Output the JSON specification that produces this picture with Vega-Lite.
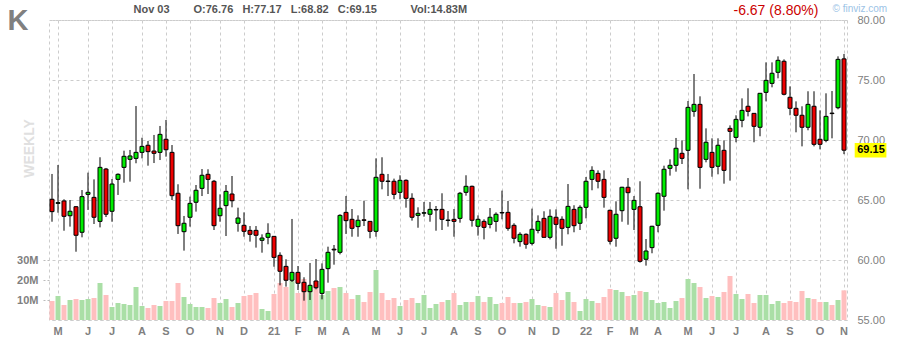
{
"$schema": "https://vega.github.io/schema/vega-lite/v6.json",
"width": 798,
"height": 300,
"autosize": {"type": "none"},
"padding": {"left": 49, "top": 20, "right": 51, "bottom": 20},
"background": "#ffffff",
"config": {
  "font": "Liberation Sans",
  "view": {"stroke": "#cccccc", "strokeDash": [3, 3], "strokeWidth": 1},
  "axis": {"gridColor": "#cccccc", "gridDash": [3, 3], "gridWidth": 1, "domain": false, "labelColor": "#808080", "labelFont": "Liberation Sans", "labelFontSize": 11, "titleFont": "Liberation Sans"}
},
"data": {"values": [
{"date":"2020-04-24","open":65.06,"high":67.17,"low":63.19,"close":64.03,"volume":9500000},
{"date":"2020-05-01","open":64.72,"high":67.92,"low":63.94,"close":64.78,"volume":12000000},
{"date":"2020-05-08","open":64.92,"high":65.06,"low":62.44,"close":63.64,"volume":7500000},
{"date":"2020-05-15","open":63.69,"high":65.0,"low":62.78,"close":64.06,"volume":10000000},
{"date":"2020-05-22","open":64.44,"high":64.5,"low":60.69,"close":62.06,"volume":10500000},
{"date":"2020-05-29","open":62.31,"high":65.83,"low":61.89,"close":65.28,"volume":10000000},
{"date":"2020-06-05","open":65.47,"high":67.28,"low":64.17,"close":65.64,"volume":10500000},
{"date":"2020-06-12","open":65.22,"high":66.72,"low":63.0,"close":63.56,"volume":11000000},
{"date":"2020-06-19","open":63.22,"high":68.56,"low":62.72,"close":67.72,"volume":18500000},
{"date":"2020-06-26","open":67.58,"high":67.67,"low":63.58,"close":63.81,"volume":12500000},
{"date":"2020-07-02","open":64.06,"high":66.75,"low":63.19,"close":66.33,"volume":6500000},
{"date":"2020-07-10","open":66.72,"high":67.22,"low":65.42,"close":67.14,"volume":8500000},
{"date":"2020-07-17","open":67.72,"high":69.11,"low":66.44,"close":68.64,"volume":8000000},
{"date":"2020-07-24","open":68.39,"high":69.17,"low":66.53,"close":68.67,"volume":7500000},
{"date":"2020-07-31","open":68.47,"high":72.83,"low":68.06,"close":68.97,"volume":16500000},
{"date":"2020-08-07","open":68.97,"high":70.19,"low":68.47,"close":69.47,"volume":7000000},
{"date":"2020-08-14","open":69.56,"high":69.92,"low":67.86,"close":69.03,"volume":6000000},
{"date":"2020-08-21","open":69.08,"high":70.42,"low":68.08,"close":68.89,"volume":7500000},
{"date":"2020-08-28","open":68.97,"high":71.17,"low":68.33,"close":70.47,"volume":7000000},
{"date":"2020-09-04","open":70.06,"high":71.67,"low":68.61,"close":69.19,"volume":9500000},
{"date":"2020-09-11","open":68.97,"high":69.58,"low":65.0,"close":65.36,"volume":9500000},
{"date":"2020-09-18","open":65.56,"high":66.31,"low":62.17,"close":62.86,"volume":18500000},
{"date":"2020-09-25","open":62.36,"high":63.67,"low":60.78,"close":63.06,"volume":11500000},
{"date":"2020-10-02","open":63.56,"high":65.28,"low":62.78,"close":64.72,"volume":8000000},
{"date":"2020-10-09","open":64.81,"high":66.25,"low":64.03,"close":65.81,"volume":6500000},
{"date":"2020-10-16","open":65.97,"high":67.58,"low":65.33,"close":67.06,"volume":6500000},
{"date":"2020-10-23","open":67.14,"high":67.56,"low":65.5,"close":66.72,"volume":6000000},
{"date":"2020-10-30","open":66.56,"high":66.67,"low":62.5,"close":62.86,"volume":11000000},
{"date":"2020-11-06","open":63.69,"high":65.47,"low":63.19,"close":64.31,"volume":8500000},
{"date":"2020-11-13","open":64.53,"high":66.25,"low":62.0,"close":65.72,"volume":10500000},
{"date":"2020-11-20","open":65.5,"high":67.0,"low":64.39,"close":64.94,"volume":6500000},
{"date":"2020-11-27","open":63.06,"high":64.36,"low":62.36,"close":63.5,"volume":8500000},
{"date":"2020-12-04","open":62.89,"high":63.97,"low":61.94,"close":62.39,"volume":12000000},
{"date":"2020-12-11","open":62.47,"high":62.83,"low":61.53,"close":62.14,"volume":12500000},
{"date":"2020-12-18","open":62.47,"high":62.83,"low":61.03,"close":62.06,"volume":13500000},
{"date":"2020-12-24","open":61.64,"high":62.14,"low":60.61,"close":61.83,"volume":5500000},
{"date":"2020-12-31","open":61.89,"high":63.06,"low":61.31,"close":62.22,"volume":4500000},
{"date":"2021-01-08","open":61.97,"high":62.0,"low":59.44,"close":60.22,"volume":13000000},
{"date":"2021-01-15","open":60.39,"high":60.64,"low":57.89,"close":59.06,"volume":18500000},
{"date":"2021-01-22","open":59.47,"high":60.06,"low":57.78,"close":58.31,"volume":16500000},
{"date":"2021-01-29","open":58.31,"high":63.42,"low":58.17,"close":58.97,"volume":19500000},
{"date":"2021-02-05","open":58.97,"high":59.5,"low":57.5,"close":58.06,"volume":13500000},
{"date":"2021-02-12","open":58.14,"high":58.56,"low":56.61,"close":57.36,"volume":20500000},
{"date":"2021-02-19","open":57.36,"high":59.75,"low":56.67,"close":57.89,"volume":15000000},
{"date":"2021-02-26","open":58.25,"high":60.08,"low":57.56,"close":57.69,"volume":16000000},
{"date":"2021-03-05","open":57.22,"high":59.72,"low":56.72,"close":59.22,"volume":12500000},
{"date":"2021-03-12","open":59.28,"high":61.11,"low":58.11,"close":60.64,"volume":14500000},
{"date":"2021-03-19","open":60.9,"high":61.25,"low":59.61,"close":60.84,"volume":16000000},
{"date":"2021-03-26","open":60.64,"high":63.81,"low":60.47,"close":63.72,"volume":16500000},
{"date":"2021-04-01","open":63.97,"high":65.33,"low":62.17,"close":63.28,"volume":13500000},
{"date":"2021-04-09","open":63.39,"high":64.25,"low":61.94,"close":62.64,"volume":10500000},
{"date":"2021-04-16","open":62.78,"high":63.72,"low":61.94,"close":63.31,"volume":12500000},
{"date":"2021-04-23","open":63.35,"high":64.94,"low":62.83,"close":63.3,"volume":9000000},
{"date":"2021-04-30","open":63.22,"high":63.25,"low":61.81,"close":62.39,"volume":14000000},
{"date":"2021-05-07","open":62.39,"high":68.47,"low":61.94,"close":66.89,"volume":25000000},
{"date":"2021-05-14","open":67.14,"high":68.56,"low":65.89,"close":66.56,"volume":13500000},
{"date":"2021-05-21","open":66.58,"high":67.17,"low":65.33,"close":66.54,"volume":10000000},
{"date":"2021-05-28","open":66.56,"high":66.78,"low":65.06,"close":65.47,"volume":11000000},
{"date":"2021-06-04","open":65.64,"high":67.06,"low":65.06,"close":66.64,"volume":7000000},
{"date":"2021-06-11","open":66.64,"high":66.72,"low":64.36,"close":65.14,"volume":10000000},
{"date":"2021-06-18","open":65.14,"high":65.56,"low":63.28,"close":63.56,"volume":11000000},
{"date":"2021-06-25","open":63.72,"high":64.39,"low":62.69,"close":63.89,"volume":8500000},
{"date":"2021-07-02","open":63.9,"high":64.83,"low":63.61,"close":63.94,"volume":12500000},
{"date":"2021-07-09","open":63.81,"high":64.83,"low":63.19,"close":64.22,"volume":6000000},
{"date":"2021-07-16","open":64.17,"high":64.5,"low":62.44,"close":64.21,"volume":8000000},
{"date":"2021-07-23","open":64.22,"high":65.56,"low":62.5,"close":63.39,"volume":9000000},
{"date":"2021-07-30","open":63.29,"high":64.08,"low":62.78,"close":63.33,"volume":10000000},
{"date":"2021-08-06","open":63.39,"high":64.25,"low":61.94,"close":63.22,"volume":13500000},
{"date":"2021-08-13","open":63.47,"high":65.67,"low":63.11,"close":65.56,"volume":7500000},
{"date":"2021-08-20","open":65.64,"high":67.06,"low":65.36,"close":66.14,"volume":9000000},
{"date":"2021-08-27","open":66.14,"high":66.2,"low":62.78,"close":63.31,"volume":9000000},
{"date":"2021-09-03","open":62.81,"high":63.72,"low":62.03,"close":63.39,"volume":12000000},
{"date":"2021-09-10","open":63.22,"high":63.39,"low":61.72,"close":62.72,"volume":9000000},
{"date":"2021-09-17","open":62.97,"high":64.33,"low":62.64,"close":63.56,"volume":11500000},
{"date":"2021-09-24","open":63.22,"high":63.97,"low":62.36,"close":63.81,"volume":8000000},
{"date":"2021-10-01","open":63.96,"high":65.78,"low":63.39,"close":63.92,"volume":8500000},
{"date":"2021-10-08","open":63.97,"high":64.92,"low":62.44,"close":62.64,"volume":11500000},
{"date":"2021-10-15","open":62.89,"high":63.06,"low":61.39,"close":61.81,"volume":8500000},
{"date":"2021-10-22","open":61.53,"high":62.31,"low":61.11,"close":62.14,"volume":8500000},
{"date":"2021-10-29","open":62.14,"high":62.22,"low":60.94,"close":61.31,"volume":9000000},
{"date":"2021-11-05","open":61.39,"high":64.28,"low":61.22,"close":62.56,"volume":10500000},
{"date":"2021-11-12","open":62.47,"high":63.72,"low":62.22,"close":63.22,"volume":7500000},
{"date":"2021-11-19","open":63.47,"high":64.06,"low":61.85,"close":61.89,"volume":7000000},
{"date":"2021-11-26","open":61.89,"high":64.22,"low":61.72,"close":63.64,"volume":6500000},
{"date":"2021-12-03","open":63.56,"high":64.22,"low":60.94,"close":62.97,"volume":13500000},
{"date":"2021-12-10","open":63.39,"high":63.64,"low":61.19,"close":62.64,"volume":10000000},
{"date":"2021-12-17","open":62.72,"high":66.33,"low":62.14,"close":64.47,"volume":14000000},
{"date":"2021-12-23","open":64.22,"high":64.56,"low":62.31,"close":62.86,"volume":9000000},
{"date":"2021-12-31","open":63.06,"high":64.56,"low":62.5,"close":64.39,"volume":4500000},
{"date":"2022-01-07","open":64.39,"high":66.92,"low":63.47,"close":66.56,"volume":10500000},
{"date":"2022-01-14","open":66.72,"high":67.81,"low":65.81,"close":67.47,"volume":9500000},
{"date":"2022-01-21","open":67.22,"high":67.47,"low":65.97,"close":66.56,"volume":8500000},
{"date":"2022-01-28","open":66.72,"high":67.47,"low":64.36,"close":65.22,"volume":11500000},
{"date":"2022-02-04","open":64.14,"high":64.2,"low":61.3,"close":61.56,"volume":15500000},
{"date":"2022-02-11","open":61.81,"high":64.89,"low":61.11,"close":63.81,"volume":15000000},
{"date":"2022-02-18","open":64.11,"high":66.1,"low":63.19,"close":66.06,"volume":14000000},
{"date":"2022-02-25","open":66.06,"high":66.83,"low":62.94,"close":65.61,"volume":12000000},
{"date":"2022-03-04","open":64.22,"high":65.33,"low":62.5,"close":64.97,"volume":12500000},
{"date":"2022-03-11","open":64.44,"high":66.56,"low":59.78,"close":59.89,"volume":14500000},
{"date":"2022-03-18","open":60.06,"high":61.75,"low":59.53,"close":60.75,"volume":14000000},
{"date":"2022-03-25","open":61.03,"high":62.85,"low":60.56,"close":62.81,"volume":10000000},
{"date":"2022-04-01","open":62.89,"high":65.64,"low":62.31,"close":65.56,"volume":8500000},
{"date":"2022-04-08","open":65.31,"high":67.86,"low":64.11,"close":67.56,"volume":9000000},
{"date":"2022-04-14","open":67.64,"high":68.39,"low":67.03,"close":67.89,"volume":6000000},
{"date":"2022-04-22","open":67.89,"high":70.17,"low":67.36,"close":69.31,"volume":9500000},
{"date":"2022-04-29","open":68.89,"high":69.97,"low":68.0,"close":68.47,"volume":11000000},
{"date":"2022-05-06","open":69.14,"high":73.25,"low":65.89,"close":72.72,"volume":20500000},
{"date":"2022-05-13","open":72.39,"high":75.5,"low":71.94,"close":72.97,"volume":18500000},
{"date":"2022-05-20","open":72.97,"high":73.64,"low":65.94,"close":67.72,"volume":16500000},
{"date":"2022-05-27","open":68.39,"high":70.97,"low":68.14,"close":69.81,"volume":11000000},
{"date":"2022-06-03","open":68.97,"high":70.14,"low":66.94,"close":67.72,"volume":12000000},
{"date":"2022-06-10","open":67.81,"high":70.14,"low":67.14,"close":69.56,"volume":11500000},
{"date":"2022-06-17","open":69.14,"high":69.97,"low":66.36,"close":67.47,"volume":14000000},
{"date":"2022-06-24","open":70.97,"high":71.22,"low":66.61,"close":70.72,"volume":22000000},
{"date":"2022-07-01","open":70.22,"high":72.06,"low":69.81,"close":71.72,"volume":13000000},
{"date":"2022-07-08","open":71.64,"high":73.47,"low":71.06,"close":72.47,"volume":10500000},
{"date":"2022-07-15","open":72.81,"high":74.31,"low":71.97,"close":72.39,"volume":13000000},
{"date":"2022-07-22","open":72.22,"high":72.25,"low":69.81,"close":71.14,"volume":8500000},
{"date":"2022-07-29","open":71.06,"high":73.92,"low":70.31,"close":73.89,"volume":12500000},
{"date":"2022-08-05","open":73.97,"high":76.47,"low":73.22,"close":74.97,"volume":12500000},
{"date":"2022-08-12","open":74.72,"high":76.47,"low":74.39,"close":75.56,"volume":8000000},
{"date":"2022-08-19","open":75.64,"high":76.97,"low":75.14,"close":76.64,"volume":9500000},
{"date":"2022-08-26","open":76.56,"high":76.72,"low":73.72,"close":73.81,"volume":8500000},
{"date":"2022-09-02","open":73.56,"high":74.47,"low":72.06,"close":72.64,"volume":9500000},
{"date":"2022-09-09","open":72.64,"high":73.22,"low":70.64,"close":72.06,"volume":9000000},
{"date":"2022-09-16","open":72.06,"high":72.81,"low":69.47,"close":71.06,"volume":14500000},
{"date":"2022-09-23","open":71.06,"high":74.06,"low":70.81,"close":72.97,"volume":11000000},
{"date":"2022-09-30","open":72.81,"high":74.06,"low":69.47,"close":69.64,"volume":10500000},
{"date":"2022-10-07","open":70.06,"high":72.47,"low":69.22,"close":69.64,"volume":9000000},
{"date":"2022-10-14","open":69.97,"high":73.89,"low":69.81,"close":71.97,"volume":9000000},
{"date":"2022-10-21","open":72.24,"high":74.08,"low":70.14,"close":72.2,"volume":7500000},
{"date":"2022-10-28","open":72.69,"high":76.97,"low":72.56,"close":76.72,"volume":10000000},
{"date":"2022-11-03","open":76.76,"high":77.17,"low":68.82,"close":69.15,"volume":14830000}
]},
"layer": [
  {
    "mark": {"type": "bar", "size": 5},
    "encoding": {
      "x": {"field": "date", "type": "ordinal", "scale": {"type": "band", "paddingInner": 0, "paddingOuter": 0},
        "axis": {"orient": "bottom", "values": ["2020-05-01","2020-06-05","2020-07-02","2020-08-07","2020-09-04","2020-10-02","2020-11-06","2020-12-04","2021-01-08","2021-02-05","2021-03-05","2021-04-01","2021-05-07","2021-06-04","2021-07-02","2021-08-06","2021-09-03","2021-10-01","2021-11-05","2021-12-03","2022-01-07","2022-02-04","2022-03-04","2022-04-01","2022-05-06","2022-06-03","2022-07-01","2022-08-05","2022-09-02","2022-10-07","2022-11-03"],
          "labelExpr": "utcmonth(toDate(datum.value)) == 0 ? utcFormat(toDate(datum.value), '%y') : substring(utcFormat(toDate(datum.value), '%b'), 0, 1)",
          "grid": true, "ticks": false, "bandPosition": 0.5, "labelAngle": 0, "labelOverlap": false, "labelFlush": false,
          "labelPadding": 5, "labelFontWeight": "bold", "labelFontSize": 11,
          "title": "\u00a9 finviz.com", "titleX": 783, "titleY": -312, "titleAlign": "left", "titleBaseline": "middle", "titleColor": "#9cc3e6", "titleFontSize": 10, "titleFontWeight": "normal"}},
      "y": {"field": "volume", "type": "quantitative", "scale": {"domain": [0, 150000000], "nice": false, "zero": true},
        "axis": {"orient": "left", "values": [10000000, 20000000, 30000000], "labelExpr": "datum.value / 1000000 + 'M'",
          "grid": false, "ticks": true, "tickSize": 7, "tickColor": "#bbbbbb", "tickDash": [2, 2], "labelPadding": 4, "labelFontWeight": "bold", "labelFontSize": 11,
          "title": "WEEKLY", "titleX": -19.5, "titleY": 128, "titleAngle": 270, "titleAlign": "center", "titleBaseline": "middle", "titleColor": "#e0e0e0", "titleFontSize": 14, "titleFontWeight": "bold"}},
      "color": {"condition": {"test": "datum.close >= datum.open", "value": "#aadfa6"}, "value": "#ffbfbf"}
    }
  },
  {
    "mark": {"type": "rule", "color": "#000000", "strokeWidth": 1},
    "encoding": {
      "x": {"field": "date", "type": "ordinal", "scale": {"type": "band", "paddingInner": 0, "paddingOuter": 0},
        "axis": {"orient": "top", "labels": false, "ticks": false, "grid": false, "domain": false,
          "title": "Nov 03", "titleX": 84, "titleY": -11, "titleAlign": "left", "titleBaseline": "middle", "titleColor": "#555555", "titleFontSize": 11, "titleFontWeight": "bold"}},
      "y": {"field": "low", "type": "quantitative", "scale": {"domain": [55, 80], "nice": false, "zero": false},
        "axis": {"orient": "right", "values": [55, 60, 65, 70, 75, 80], "format": ".2f", "grid": true, "ticks": false, "labelPadding": 10, "labelAlign": "left", "labelBaseline": "middle",
          "title": "-6.67 (8.80%)", "titleX": -114, "titleY": -10, "titleAngle": 0, "titleAlign": "left", "titleBaseline": "middle", "titleColor": "#cc0000", "titleFontSize": 14, "titleFontWeight": "normal"}},
      "y2": {"field": "high"}
    }
  },
  {
    "mark": {"type": "bar", "size": 4, "stroke": "#000000", "strokeWidth": 1},
    "encoding": {
      "x": {"field": "date", "type": "ordinal", "scale": {"type": "band", "paddingInner": 0, "paddingOuter": 0},
        "axis": {"orient": "top", "labels": false, "ticks": false, "grid": false, "domain": false,
          "title": "O:76.76\u00a0\u00a0\u00a0H:77.17\u00a0\u00a0\u00a0L:68.82\u00a0\u00a0\u00a0C:69.15", "titleX": 144, "titleY": -11, "titleAlign": "left", "titleBaseline": "middle", "titleColor": "#555555", "titleFontSize": 11, "titleFontWeight": "bold"}},
      "y": {"field": "open", "type": "quantitative", "scale": {"domain": [55, 80], "nice": false, "zero": false}, "axis": null},
      "y2": {"field": "close"},
      "fill": {"condition": {"test": "datum.close >= datum.open", "value": "#00ee00"}, "value": "#ee0000"}
    }
  },
  {
    "transform": [{"filter": "datum.date === '2022-11-03'"}],
    "mark": {"type": "point", "shape": "M1.07,-0.73L4.24,-0.73L4.24,0.73L1.07,0.73Z", "size": 400, "filled": true, "color": "#ffff00", "opacity": 1, "strokeWidth": 0},
    "encoding": {
      "x": {"field": "date", "type": "ordinal", "scale": {"type": "band", "paddingInner": 0, "paddingOuter": 0},
        "axis": {"orient": "top", "labels": false, "ticks": false, "grid": false, "domain": false,
          "title": "Vol:14.83M", "titleX": 361, "titleY": -11, "titleAlign": "left", "titleBaseline": "middle", "titleColor": "#555555", "titleFontSize": 11, "titleFontWeight": "bold"}},
      "y": {"field": "close", "type": "quantitative", "scale": {"domain": [55, 80], "nice": false, "zero": false}, "axis": null}
    }
  },
  {
    "transform": [{"filter": "datum.date === '2022-11-03'"}],
    "mark": {"type": "text", "dx": 27, "align": "center", "baseline": "middle", "fontSize": 11, "fontWeight": "bold", "font": "Liberation Sans", "color": "#000000"},
    "encoding": {
      "x": {"field": "date", "type": "ordinal", "scale": {"type": "band", "paddingInner": 0, "paddingOuter": 0},
        "axis": {"orient": "top", "labels": false, "ticks": false, "grid": false, "domain": false,
          "title": "K", "titleX": -42, "titleY": 9, "titleAlign": "left", "titleBaseline": "alphabetic", "titleColor": "#808080", "titleFontSize": 29, "titleFontWeight": "bold"}},
      "y": {"field": "close", "type": "quantitative", "scale": {"domain": [55, 80], "nice": false, "zero": false}, "axis": null},
      "text": {"field": "close", "type": "quantitative", "format": ".2f"}
    }
  }
],
"resolve": {"scale": {"y": "independent"}, "axis": {"x": "independent", "y": "independent"}}
}
